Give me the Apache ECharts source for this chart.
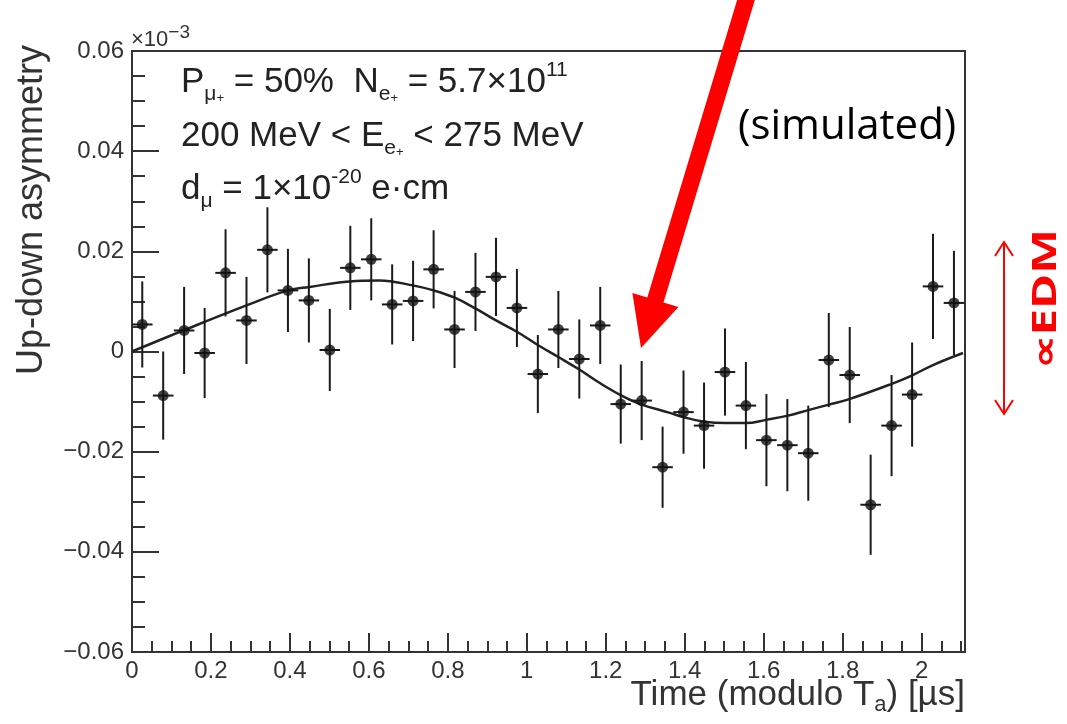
<!DOCTYPE html>
<html>
<head>
<meta charset="utf-8">
<script src="https://cdn.jsdelivr.net/npm/echarts@6/dist/echarts.min.js"></script>
<style>
  html, body { margin: 0; padding: 0; background: #fff; }
  #mainChart { width: 1067px; height: 724px; }
</style>
</head>
<body>
<div id="mainChart"></div>
<script>
// Up-down asymmetry vs time (modulo T_a), simulated EDM signal

// bin centres [us]
var times = [0.026, 0.079, 0.132, 0.184, 0.237, 0.290, 0.343, 0.395, 0.448, 0.501,
             0.553, 0.606, 0.659, 0.712, 0.764, 0.817, 0.870, 0.922, 0.975, 1.028,
             1.080, 1.133, 1.186, 1.238, 1.291, 1.344, 1.397, 1.449, 1.502, 1.555,
             1.607, 1.660, 1.713, 1.765, 1.818, 1.871, 1.924, 1.976, 2.029, 2.082];
// half bin width
var timeErr = 0.026;
// asymmetry (x10^-3)
var asym = [0.0054, -0.0088, 0.0042, -0.0003, 0.0157, 0.0062, 0.0203, 0.0122, 0.0102, 0.0003,
            0.0167, 0.0184, 0.0094, 0.0101, 0.0164, 0.0044, 0.0119, 0.0149, 0.0087, -0.0045,
            0.0044, -0.0015, 0.0052, -0.0105, -0.0098, -0.0231, -0.0121, -0.0148, -0.0041, -0.0108,
            -0.0177, -0.0187, -0.0203, -0.0017, -0.0047, -0.0306, -0.0148, -0.0086, 0.0130, 0.0097];
var asymErr = [0.0086, 0.0088, 0.0087, 0.0090, 0.0087, 0.0087, 0.0085, 0.0083, 0.0084, 0.0082,
               0.0084, 0.0082, 0.0080, 0.0080, 0.0078, 0.0077, 0.0078, 0.0078, 0.0078, 0.0078,
               0.0077, 0.0079, 0.0077, 0.0079, 0.0079, 0.0081, 0.0083, 0.0086, 0.0087, 0.0087,
               0.0092, 0.0092, 0.0095, 0.0094, 0.0096, 0.0100, 0.0101, 0.0104, 0.0105, 0.0104];

// fitted curve
var fitT = [0.000, 0.130, 0.290, 0.395, 0.450, 0.551, 0.627, 0.711, 0.764, 0.819,
            0.872, 0.922, 0.976, 1.030, 1.080, 1.133, 1.185, 1.240, 1.291, 1.360,
            1.396, 1.449, 1.502, 1.554, 1.609, 1.662, 1.713, 1.765, 1.817, 1.923,
            1.975, 2.029, 2.105];
var fitY = [0.0000, 0.0042, 0.0092, 0.0122, 0.0129, 0.0140, 0.0142, 0.0132, 0.0122, 0.0107,
            0.0085, 0.0062, 0.0039, 0.0012, -0.0011, -0.0036, -0.0063, -0.0088, -0.0106, -0.0122,
            -0.0131, -0.0140, -0.0143, -0.0143, -0.0136, -0.0128, -0.0117, -0.0106, -0.0095, -0.0065,
            -0.0048, -0.0027, -0.0003];

var FONT = '"Liberation Sans", Arial, Helvetica, sans-serif';
var INK = '#333';

var myChart = echarts.init(document.getElementById('mainChart'), null, { renderer: 'canvas' });

var points = times.map(function (t, i) { return [t, asym[i], timeErr, asymErr[i]]; });
var fitData = fitT.map(function (t, i) { return [t, fitY[i]]; });

function yLabel(v) {
    if (Math.abs(v) < 1e-9) return '0';
    return (v < 0 ? '\u2212' : '') + Math.abs(v).toFixed(2);
}
function xLabel(v) {
    var k = v / 0.2;
    if (Math.abs(k - Math.round(k)) > 1e-6) return '';
    return String(+v.toFixed(1));
}

// rich text pieces for the legend box
var richMain = {
    m: { fontSize: 35, lineHeight: 45, fontFamily: FONT, fill: '#222' },
    sub: { fontSize: 21, lineHeight: 22, verticalAlign: 'bottom', fontFamily: FONT, fill: '#222' },
    subp: { fontSize: 13, lineHeight: 34, verticalAlign: 'bottom', fontFamily: FONT, fill: '#222' },
    sup: { fontSize: 21, lineHeight: 22, verticalAlign: 'top', fontFamily: FONT, fill: '#222' }
};

// red arrow (annotation)
var arrowPts = [[740.9, -12.5], [647.3, 297.5], [632.4, 293.1], [641, 348],
                [678.4, 306.9], [663.5, 302.5], [757.1, -7.5]];

myChart.setOption({
    animation: false,
    backgroundColor: '#fff',
    grid: {
        left: 132,
        right: 102,
        top: 51,
        bottom: 72,
        show: true,
        borderColor: INK,
        borderWidth: 2,
        outerBoundsMode: 'none'
    },
    xAxis: [{
        type: 'value',
        min: 0,
        max: 2.11,
        interval: 0.2,
        splitLine: { show: false },
        axisLine: { onZero: false, lineStyle: { color: INK, width: 2 } },
        axisTick: { inside: true, length: 19, lineStyle: { color: INK, width: 2 } },
        axisLabel: {
            margin: 7, color: INK, fontSize: 24, fontFamily: FONT,
            formatter: xLabel, showMaxLabel: false
        }
    }, {
        // minor ticks
        type: 'value',
        position: 'bottom',
        min: 0,
        max: 2.11,
        interval: 0.05,
        splitLine: { show: false },
        axisLine: { show: false, onZero: false },
        axisTick: { inside: true, length: 11, lineStyle: { color: INK, width: 2 } },
        axisLabel: { show: false }
    }],
    yAxis: {
        type: 'value',
        min: -0.06,
        max: 0.06,
        interval: 0.02,
        splitLine: { show: false },
        axisLine: { onZero: false, lineStyle: { color: INK, width: 2 } },
        axisTick: { inside: true, length: 27, lineStyle: { color: INK, width: 2 } },
        minorTick: { show: true, splitNumber: 4, length: 13, lineStyle: { color: INK, width: 2 } },
        axisLabel: { margin: 8, color: INK, fontSize: 24, fontFamily: FONT, formatter: yLabel }
    },
    series: [{
        name: 'fit',
        type: 'line',
        data: fitData,
        smooth: 0.4,
        showSymbol: false,
        silent: true,
        lineStyle: { color: '#222', width: 2.5 },
        z: 2
    }, {
        name: 'errors',
        type: 'custom',
        data: points,
        silent: true,
        z: 3,
        renderItem: function (params, api) {
            var x = api.value(0), y = api.value(1), ex = api.value(2), ey = api.value(3);
            var c = api.coord([x, y]);
            var l = api.coord([x - ex, y]);
            var r = api.coord([x + ex, y]);
            var t = api.coord([x, y + ey]);
            var b = api.coord([x, y - ey]);
            var st = { stroke: '#1a1a1a', lineWidth: 2 };
            return {
                type: 'group',
                children: [
                    { type: 'line', shape: { x1: l[0], y1: c[1], x2: r[0], y2: c[1] }, style: st },
                    { type: 'line', shape: { x1: c[0], y1: t[1], x2: c[0], y2: b[1] }, style: st }
                ]
            };
        }
    }, {
        name: 'data',
        type: 'scatter',
        data: points,
        symbol: 'circle',
        symbolSize: 11,
        silent: true,
        itemStyle: { color: '#111' },
        z: 4
    }],
    graphic: [
        // axis titles
        {
            type: 'text', x: 965, y: 695, z: 10,
            style: {
                text: '{m|Time (modulo T}{sub|a}{m|) [\u00b5s]}',
                align: 'right', verticalAlign: 'middle',
                rich: {
                    m: { fontSize: 35, lineHeight: 42, fontFamily: FONT, fill: INK },
                    sub: { fontSize: 22, lineHeight: 20, verticalAlign: 'bottom', fontFamily: FONT, fill: INK }
                }
            }
        },
        {
            type: 'text', x: 32, y: 45, rotation: Math.PI / 2, z: 10,
            style: {
                text: 'Up-down asymmetry', font: '36px ' + FONT, fill: INK,
                align: 'right', verticalAlign: 'middle'
            }
        },
        // exponent of the y axis
        {
            type: 'text', x: 131, y: 40, z: 10,
            style: {
                text: '{m|\u00d710}{sup|\u22123}', align: 'left', verticalAlign: 'middle',
                rich: {
                    m: { fontSize: 22, lineHeight: 34, fontFamily: FONT, fill: INK },
                    sup: { fontSize: 19, lineHeight: 19, verticalAlign: 'top', fontFamily: FONT, fill: INK }
                }
            }
        },
        // legend box
        {
            type: 'text', x: 181, y: 82, z: 10,
            style: {
                text: '{m|P}{sub|\u03bc}{subp|+}{m| = 50%  N}{sub|e}{subp|+}{m| = 5.7\u00d710}{sup|11}',
                align: 'left', verticalAlign: 'middle', rich: richMain
            }
        },
        {
            type: 'text', x: 181, y: 136, z: 10,
            style: {
                text: '{m|200 MeV < E}{sub|e}{subp|+}{m| < 275 MeV}',
                align: 'left', verticalAlign: 'middle', rich: richMain
            }
        },
        {
            type: 'text', x: 181, y: 189, z: 10,
            style: {
                text: '{m|d}{sub|\u03bc}{m| = 1\u00d710}{sup|-20}{m| e\u00b7cm}',
                align: 'left', verticalAlign: 'middle', rich: richMain
            }
        },
        // annotations
        {
            type: 'text', x: 738, y: 127, z: 10,
            style: {
                text: '(simulated)', font: '42px "Open Sans", sans-serif', fill: '#000',
                align: 'left', verticalAlign: 'middle'
            }
        },
        {
            type: 'polygon', z: 11,
            shape: { points: arrowPts },
            style: { fill: '#ff0000' }
        },
        {
            type: 'line', z: 10,
            shape: { x1: 1004, y1: 243, x2: 1004, y2: 413 },
            style: { stroke: '#ff0000', lineWidth: 2 }
        },
        {
            type: 'polyline', z: 10,
            shape: { points: [[995, 256], [1004, 242], [1013, 256]] },
            style: { stroke: '#ff0000', lineWidth: 2, fill: null }
        },
        {
            type: 'polyline', z: 10,
            shape: { points: [[995, 400], [1004, 414], [1013, 400]] },
            style: { stroke: '#ff0000', lineWidth: 2, fill: null }
        },
        {
            type: 'text', x: 1046, y: 299, rotation: Math.PI / 2, scaleX: 1.4, z: 10,
            style: {
                text: '\u221dEDM', font: 'bold 34px "Open Sans", sans-serif', fill: '#ff0000',
                align: 'center', verticalAlign: 'middle'
            }
        }
    ]
});
</script>
</body>
</html>
